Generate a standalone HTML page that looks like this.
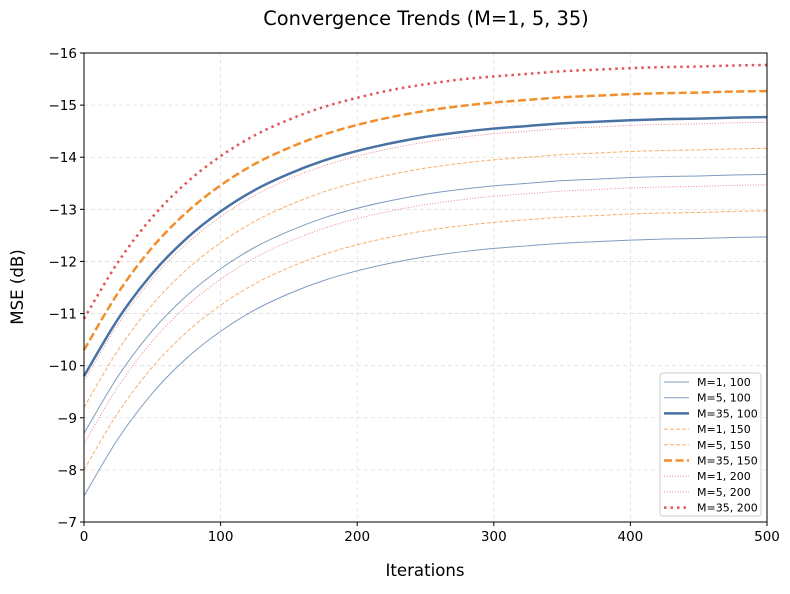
<!DOCTYPE html>
<html><head><meta charset="utf-8"><style>
body{margin:0;background:#fff;font-family:"DejaVu Sans","Liberation Sans",sans-serif}
</style></head><body>
<svg id="chart" width="790" height="590" xmlns="http://www.w3.org/2000/svg" font-family="DejaVu Sans, Liberation Sans, sans-serif">
<rect width="790" height="590" fill="#fff"/>
<text x="426" y="25" text-anchor="middle" font-size="19.4">Convergence Trends (M=1, 5, 35)</text>
<g id="grid"></g>
<g id="series"></g>
<rect x="84" y="53" width="683" height="469" fill="none" stroke="#000" stroke-width="1"/>
<g id="axes"></g>
<text x="425" y="576" text-anchor="middle" font-size="16.6">Iterations</text>
<text x="23" y="287" text-anchor="middle" font-size="16.6" transform="rotate(-90 23 287)">MSE (dB)</text>
<g id="legend"></g>
</svg>
<script>
const iterations=[0,25,50,75,100,125,150,175,200,225,250,275,300,325,350,375,400,425,450,475,500];
const xTicks=[0,100,200,300,400,500];
const yTicks=[-16,-15,-14,-13,-12,-11,-10,-9,-8,-7];
const labels=["M=1, 100","M=5, 100","M=35, 100","M=1, 150","M=5, 150","M=35, 150","M=1, 200","M=5, 200","M=35, 200"];
const s1=[-7.50,-8.60,-9.47,-10.14,-10.66,-11.07,-11.38,-11.63,-11.82,-11.97,-12.09,-12.18,-12.25,-12.30,-12.35,-12.38,-12.41,-12.43,-12.44,-12.46,-12.47];
const s2=[-8.70,-9.80,-10.67,-11.34,-11.86,-12.27,-12.58,-12.83,-13.02,-13.17,-13.29,-13.38,-13.45,-13.50,-13.55,-13.58,-13.61,-13.63,-13.64,-13.66,-13.67];
const s3=[-9.80,-10.90,-11.77,-12.44,-12.96,-13.37,-13.68,-13.93,-14.12,-14.27,-14.39,-14.48,-14.55,-14.60,-14.65,-14.68,-14.71,-14.73,-14.74,-14.76,-14.77];
const s4=[-8.00,-9.10,-9.97,-10.64,-11.16,-11.57,-11.88,-12.13,-12.32,-12.47,-12.59,-12.68,-12.75,-12.80,-12.85,-12.88,-12.91,-12.93,-12.94,-12.96,-12.97];
const s5=[-9.20,-10.30,-11.17,-11.84,-12.36,-12.77,-13.08,-13.33,-13.52,-13.67,-13.79,-13.88,-13.95,-14.00,-14.05,-14.08,-14.11,-14.13,-14.14,-14.16,-14.17];
const s6=[-10.30,-11.40,-12.27,-12.94,-13.46,-13.87,-14.18,-14.43,-14.62,-14.77,-14.89,-14.98,-15.05,-15.10,-15.15,-15.18,-15.21,-15.23,-15.24,-15.26,-15.27];
const s7=[-8.50,-9.60,-10.47,-11.14,-11.66,-12.07,-12.38,-12.63,-12.82,-12.97,-13.09,-13.18,-13.25,-13.30,-13.35,-13.38,-13.41,-13.43,-13.44,-13.46,-13.47];
const s8=[-9.70,-10.80,-11.67,-12.34,-12.86,-13.27,-13.58,-13.83,-14.02,-14.17,-14.29,-14.38,-14.45,-14.50,-14.55,-14.58,-14.61,-14.63,-14.64,-14.66,-14.67];
const s9=[-10.90,-11.99,-12.85,-13.51,-14.02,-14.42,-14.72,-14.96,-15.14,-15.29,-15.40,-15.49,-15.55,-15.60,-15.65,-15.68,-15.71,-15.73,-15.74,-15.76,-15.77];
const seriesData=[s1,s2,s3,s4,s5,s6,s7,s8,s9];
const NS="http://www.w3.org/2000/svg";
const X0=84,X1=767,Y0=53,Y1=522;
const xs=v=>X0+(v-0)/500*(X1-X0);
const ys=v=>Y0+(v-(-16))/9*(Y1-Y0);
const colors=["#4872a3","#f28e2b","#e15759"];
function mk(t,a,p){const e=document.createElementNS(NS,t);for(const k in a)e.setAttribute(k,a[k]);if(p)p.appendChild(e);return e;}
const grid=document.getElementById('grid'),axes=document.getElementById('axes');
xTicks.forEach(t=>{
 const g=mk('line',{x1:xs(t),x2:xs(t),y1:Y0,y2:Y1,stroke:'#ddd','stroke-dasharray':'4,3','stroke-width':0.8},grid);
 
 
 mk('line',{x1:xs(t),x2:xs(t),y1:Y1,y2:Y1+4,stroke:'#000'},axes);
 const l=mk('text',{x:xs(t),y:Y1+19,'text-anchor':'middle','font-size':13.5},axes);l.textContent=t;
 
 
});
yTicks.forEach(t=>{
 const g=mk('line',{x1:X0,x2:X1,y1:ys(t),y2:ys(t),stroke:'#ddd','stroke-dasharray':'4,3','stroke-width':0.8},grid);
 
 
 mk('line',{x1:X0-4,x2:X0,y1:ys(t),y2:ys(t),stroke:'#000'},axes);
 const l=mk('text',{x:X0-7,y:ys(t)+5,'text-anchor':'end','font-size':13.5},axes);l.textContent='\u2212'+Math.abs(t);
 
 
});
function style(i){
 const c=colors[Math.floor(i/3)],thick=(i%3)===2,kind=Math.floor(i/3);
 const st={stroke:c,fill:'none','stroke-width':thick?2.5:1,opacity:thick?1:0.7};
 if(kind===1)st['stroke-dasharray']=thick?'8,3.5':'4,2';
 if(kind===2)st['stroke-dasharray']=thick?'2.5,4':'1,1.7';
 return st;
}
const sg=document.getElementById('series');
seriesData.forEach((d,i)=>{
 const pts=d.map((v,j)=>[xs(iterations[j]),ys(v)]);
 let p='M'+pts[0][0]+','+pts[0][1];
 for(let j=0;j<pts.length-1;j++){
  const a=pts[Math.max(j-1,0)],b=pts[j],c=pts[j+1],e=pts[Math.min(j+2,pts.length-1)];
  p+=' C'+(b[0]+(c[0]-a[0])/6)+','+(b[1]+(c[1]-a[1])/6)+' '+(c[0]-(e[0]-b[0])/6)+','+(c[1]-(e[1]-b[1])/6)+' '+c[0]+','+c[1];
 }
 const el=mk('path',Object.assign({d:p},style(i)),sg);
 
 
});
const lg=document.getElementById('legend');
const box=mk('rect',{x:660,y:373,width:101,height:143,rx:3,fill:'#fff',stroke:'#ccc','fill-opacity':0.85},lg);


labels.forEach((lab,i)=>{
 const y=382+i*15.7;
 const st=style(i);
 const ln=mk('line',Object.assign({x1:664,x2:689,y1:y,y2:y},st),lg);
 
 
 const t=mk('text',{x:697,y:y+4,'font-size':11},lg);t.textContent=lab;
 
 
});
</script>
</body></html>
